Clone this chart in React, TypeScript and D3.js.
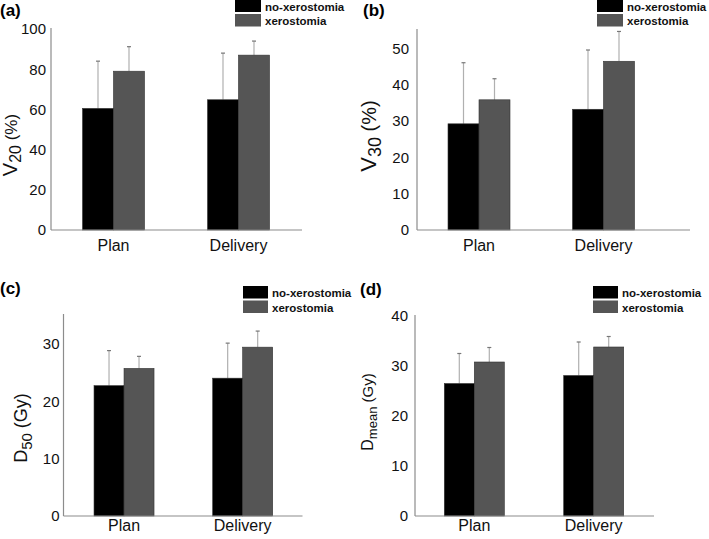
import React from "react";
import * as d3 from "d3";

// ---- data ----
const categories = ["Plan", "Delivery"];
const seriesNames = ["no-xerostomia", "xerostomia"];

const v20NoXero = [60.5, 64.8];
const v20NoXeroSD = [23.5, 23.2];
const v20Xero = [79, 87];
const v20XeroSD = [12.2, 7];
const v20Ticks = [0, 20, 40, 60, 80, 100];

const v30NoXero = [29.2, 33.2];
const v30NoXeroSD = [16.8, 16.3];
const v30Xero = [35.8, 46.4];
const v30XeroSD = [5.8, 8.2];
const v30Ticks = [0, 10, 20, 30, 40, 50];

const d50NoXero = [22.7, 24.0];
const d50NoXeroSD = [6.1, 6.1];
const d50Xero = [25.7, 29.4];
const d50XeroSD = [2.1, 2.8];
const d50Ticks = [0, 10, 20, 30];

const dmeanNoXero = [26.5, 28.1];
const dmeanNoXeroSD = [6.0, 6.7];
const dmeanXero = [30.8, 33.8];
const dmeanXeroSD = [2.9, 2.1];
const dmeanTicks = [0, 10, 20, 30, 40];

const FONT = "'Liberation Sans', Arial, Helvetica, sans-serif";
const COLORS = ["#000000", "#555555"];

type LabelPart = { text: string; size: number; sub?: boolean };

type PanelProps = {
  tag: string;
  tagX: number;
  tagY: number;
  noX: number[];
  noXSD: number[];
  x: number[];
  xSD: number[];
  ticks: number[];
  yMax: number;
  axisX: number;
  axisTop: number;
  axisBottom: number;
  axisEnd: number;
  bandStart: number;
  bandEnd: number;
  barW: number;
  tickGap: number;
  catBaseline: number;
  legendX: number;
  legendY: number;
  legendTextX: number;
  label: LabelPart[];
  labelX: number;
  labelY: number;
};

function Panel(p: PanelProps) {
  const y = d3.scaleLinear().domain([0, p.yMax]).range([p.axisBottom, p.axisTop]);
  const xc = d3.scalePoint<string>().domain(categories).range([p.bandStart, p.bandEnd]).padding(0.5);
  const series = [
    { vals: p.noX, sd: p.noXSD, off: -p.barW },
    { vals: p.x, sd: p.xSD, off: 0 },
  ];
  return (
    <g>
      <text x={p.tagX} y={p.tagY} fontFamily={FONT} fontWeight="bold" fontSize={17} fill="#000">
        {p.tag}
      </text>
      {/* bars */}
      {series.map((s, si) =>
        categories.map((c, ci) => {
          const cx = (xc(c) as number) + s.off;
          const top = y(s.vals[ci]);
          const errTop = y(s.vals[ci] + s.sd[ci]);
          const mid = cx + p.barW / 2;
          return (
            <g key={`${si}-${ci}`}>
              <line x1={mid} x2={mid} y1={top} y2={errTop} stroke="#b0b0b0" strokeWidth={1.2} />
              <line x1={mid - 2} x2={mid + 2} y1={errTop} y2={errTop} stroke="#777" strokeWidth={1.2} />
              <rect
                x={cx}
                y={top}
                width={p.barW}
                height={p.axisBottom - top}
                fill={COLORS[si]}
                stroke="#333"
                strokeWidth={0.6}
              />
            </g>
          );
        })
      )}
      {/* axes */}
      <line x1={p.axisX} x2={p.axisX} y1={p.axisTop - 1} y2={p.axisBottom} stroke="#8c8c8c" strokeWidth={1.2} />
      <line x1={p.axisX} x2={p.axisEnd} y1={p.axisBottom} y2={p.axisBottom} stroke="#8c8c8c" strokeWidth={1.2} />
      {p.ticks.map((t) => (
        <text
          key={t}
          x={p.axisX - p.tickGap}
          y={y(t)}
          dy="0.36em"
          textAnchor="end"
          fontFamily={FONT}
          fontSize={15}
          fill="#111"
        >
          {t}
        </text>
      ))}
      {categories.map((c) => (
        <text
          key={c}
          x={xc(c) as number}
          y={p.catBaseline}
          textAnchor="middle"
          fontFamily={FONT}
          fontSize={16}
          fill="#111"
        >
          {c}
        </text>
      ))}
      {/* y label */}
      <text
        transform={`translate(${p.labelX},${p.labelY}) rotate(-90)`}
        textAnchor="middle"
        fontFamily={FONT}
        fill="#111"
      >
        {p.label.map((part, i) => {
          const prev = i > 0 ? p.label[i - 1] : null;
          let dy = 0;
          if (part.sub) dy = part.size * 0.3;
          else if (prev && prev.sub) dy = -prev.size * 0.3;
          return (
            <tspan key={i} fontSize={part.size} dy={dy}>
              {part.text}
            </tspan>
          );
        })}
      </text>
      {/* legend */}
      {seriesNames.map((n, i) => (
        <g key={n}>
          <rect
            x={p.legendX}
            y={p.legendY + i * 14.5}
            width={p.legendTextX - p.legendX - 4}
            height={12.5}
            fill={COLORS[i]}
          />
          <text
            x={p.legendTextX}
            y={p.legendY + i * 14.5 + 11}
            fontFamily={FONT}
            fontWeight="bold"
            fontSize={11.5}
            fill="#111"
          >
            {n}
          </text>
        </g>
      ))}
    </g>
  );
}

export default function App() {
  return (
    <svg
      width={709}
      height={539}
      style={{ position: "absolute", left: 0, top: 0, background: "#fff" }}
    >
      <Panel
        tag="(a)"
        tagX={0}
        tagY={16}
        noX={v20NoXero}
        noXSD={v20NoXeroSD}
        x={v20Xero}
        xSD={v20XeroSD}
        ticks={v20Ticks}
        yMax={100}
        axisX={51}
        axisTop={29}
        axisBottom={230}
        axisEnd={302}
        bandStart={51}
        bandEnd={301}
        barW={31}
        tickGap={5}
        catBaseline={251}
        legendX={235}
        legendY={-0.5}
        legendTextX={265}
        label={[
          { text: "V", size: 20 },
          { text: "20", size: 16, sub: true },
          { text: " (%)", size: 17 },
        ]}
        labelX={16.5}
        labelY={145}
      />
      <Panel
        tag="(b)"
        tagX={363}
        tagY={16}
        noX={v30NoXero}
        noXSD={v30NoXeroSD}
        x={v30Xero}
        xSD={v30XeroSD}
        ticks={v30Ticks}
        yMax={55}
        axisX={417}
        axisTop={30}
        axisBottom={230}
        axisEnd={690}
        bandStart={416.75}
        bandEnd={665.75}
        barW={31}
        tickGap={8}
        catBaseline={251}
        legendX={597}
        legendY={-0.5}
        legendTextX={627}
        label={[
          { text: "V", size: 22 },
          { text: "30", size: 18, sub: true },
          { text: " (%)", size: 20 },
        ]}
        labelX={376}
        labelY={136}
      />
      <Panel
        tag="(c)"
        tagX={0}
        tagY={294}
        noX={d50NoXero}
        noXSD={d50NoXeroSD}
        x={d50Xero}
        xSD={d50XeroSD}
        ticks={d50Ticks}
        yMax={35}
        axisX={63.5}
        axisTop={315}
        axisBottom={516}
        axisEnd={302.5}
        bandStart={64.7}
        bandEnd={302}
        barW={30}
        tickGap={4}
        catBaseline={531}
        legendX={243}
        legendY={286}
        legendTextX={272}
        label={[
          { text: "D", size: 18 },
          { text: "50", size: 15, sub: true },
          { text: " (Gy)", size: 18 },
        ]}
        labelX={27}
        labelY={428}
      />
      <Panel
        tag="(d)"
        tagX={360}
        tagY={295}
        noX={dmeanNoXero}
        noXSD={dmeanNoXeroSD}
        x={dmeanXero}
        xSD={dmeanXeroSD}
        ticks={dmeanTicks}
        yMax={40}
        axisX={415}
        axisTop={316}
        axisBottom={516}
        axisEnd={654}
        bandStart={414.6}
        bandEnd={653.4}
        barW={30}
        tickGap={7}
        catBaseline={531}
        legendX={593}
        legendY={286}
        legendTextX={622}
        label={[
          { text: "D", size: 16 },
          { text: "mean", size: 13, sub: true },
          { text: " (Gy)", size: 15 },
        ]}
        labelX={373}
        labelY={412}
      />
    </svg>
  );
}
